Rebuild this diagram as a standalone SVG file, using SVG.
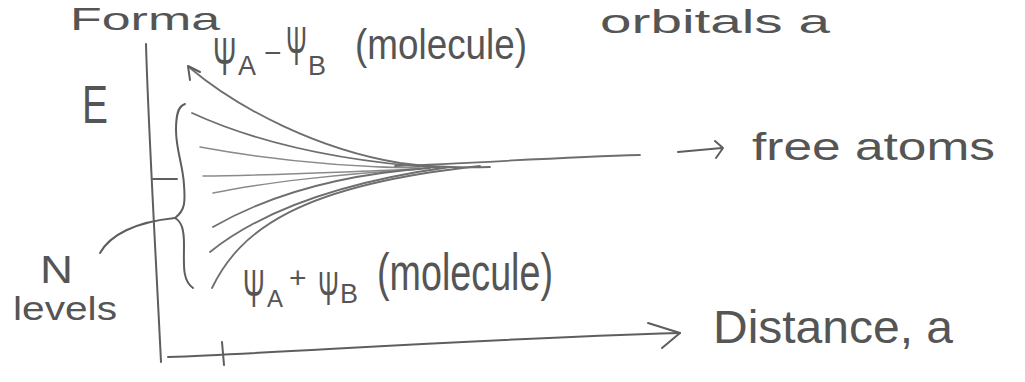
<svg xmlns="http://www.w3.org/2000/svg" width="1025" height="382" viewBox="0 0 1025 382">
<style>
.ink{fill:none;stroke:#5e5e5e;stroke-width:2;stroke-linecap:round;stroke-linejoin:round}
.lev{fill:none;stroke:#6e6e6e;stroke-width:1.8;stroke-linecap:round}
.faint{stroke:#8a8a8a;stroke-width:1.5}
.t{font-family:"Liberation Sans",Arial,sans-serif;fill:#555}
</style>
<rect width="1025" height="382" fill="#fff"/>
<g id="header">
<text class="t" x="70" y="30" font-size="32" textLength="150" lengthAdjust="spacingAndGlyphs">Forma</text>
<text class="t" x="600" y="33" font-size="34" textLength="230" lengthAdjust="spacingAndGlyphs">orbitals a</text>
</g>
<g id="axes">
<path class="ink" d="M146 44 C148 120,155 240,161 362"/>
<path class="ink" d="M168 357 C300 352,450 340,680 333"/>
<path class="ink" d="M648 323 L680 333 L662 348"/>
<path class="ink" d="M222 342 L224 365"/>
<path class="ink" d="M153 179 L177 179"/>
</g>
<g id="label-E"><text class="t" x="82" y="123" font-size="54" textLength="26" lengthAdjust="spacingAndGlyphs">E</text></g>
<g id="label-distance"><text class="t" x="713" y="343" font-size="46" textLength="240" lengthAdjust="spacingAndGlyphs">Distance, a</text></g>
<g id="brace">
<path class="ink" d="M185 104 C178 106,176 115,176 130 C176 150,183 165,184 185 C185 200,186 210,175 218 C182 222,184 230,184 245 C184 265,182 280,193 288"/>
</g>
<g id="label-N">
<path class="ink" d="M100 253 C110 235,135 222,175 218"/>
<text class="t" x="40" y="283" font-size="38" textLength="33" lengthAdjust="spacingAndGlyphs">N</text>
<text class="t" x="13" y="320" font-size="34" textLength="104" lengthAdjust="spacingAndGlyphs">levels</text>
</g>
<g id="levels">
<path class="lev" d="M190 68 C240 110,320 150,400 163 C430 167,460 168,490 167"/>
<path class="ink" d="M188 66 L190 80 M188 66 L200 72"/>
<path class="lev" d="M192 113 C240 135,320 160,440 168"/>
<path class="lev faint" d="M200 147 C260 158,340 167,420 168"/>
<path class="lev faint" d="M203 176 C260 176,340 172,420 169"/>
<path class="lev faint" d="M213 193 C260 183,340 174,420 169"/>
<path class="lev" d="M213 227 C260 200,330 175,430 168"/>
<path class="lev" d="M210 252 C250 220,320 185,450 167"/>
<path class="lev" d="M212 288 C240 230,300 185,480 166"/>
<path class="lev" d="M395 166 C480 163,560 157,640 155"/>
</g>
<g id="label-antibonding">
<text class="t" font-size="28" transform="translate(213 75) scale(1 1.9)">Ψ</text>
<text class="t" x="238" y="75" font-size="27">A</text>
<text class="t" x="264" y="63" font-size="30">−</text>
<text class="t" font-size="25" transform="translate(286 65) scale(1 2.2)">Ψ</text>
<text class="t" x="308" y="75" font-size="27">B</text>
<text class="t" x="355" y="59" font-size="42" textLength="172" lengthAdjust="spacingAndGlyphs">(molecule)</text>
</g>
<g id="label-bonding">
<text class="t" font-size="26" transform="translate(243 307) scale(1 2.1)">Ψ</text>
<text class="t" x="267" y="307" font-size="24">A</text>
<text class="t" x="289" y="288" font-size="30">+</text>
<text class="t" font-size="25" transform="translate(318 305) scale(1 1.95)">Ψ</text>
<text class="t" x="340" y="303" font-size="27">B</text>
<text class="t" x="377" y="290" font-size="52" textLength="176" lengthAdjust="spacingAndGlyphs">(molecule)</text>
</g>
<g id="label-free">
<path class="ink" d="M678 152 L722 148 M715 141 L723 148 L716 158"/>
<text class="t" x="752" y="160" font-size="38" textLength="243" lengthAdjust="spacingAndGlyphs">free atoms</text>
</g>
</svg>
